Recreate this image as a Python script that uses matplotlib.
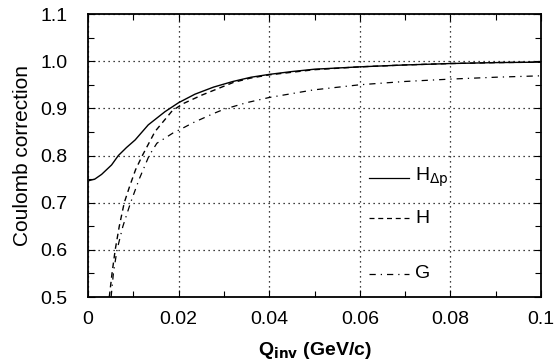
import matplotlib
matplotlib.use("Agg")
import matplotlib.pyplot as plt
from matplotlib.ticker import MultipleLocator

plt.rcParams['font.family'] = ['Liberation Sans', 'DejaVu Sans']

# H_Δp (solid)
x_hdp = [0.0003, 0.0015, 0.003, 0.0052, 0.0067, 0.0085, 0.0104, 0.0133, 0.017, 0.020,
         0.0236, 0.0277, 0.032, 0.036, 0.040, 0.045, 0.050, 0.060, 0.070, 0.080, 0.090, 0.100]
y_hdp = [0.747, 0.750, 0.760, 0.780, 0.800, 0.817, 0.833, 0.865, 0.893, 0.912,
         0.930, 0.945, 0.957, 0.966, 0.972, 0.978, 0.983, 0.988, 0.992, 0.995, 0.997, 0.998]

# H (dashed)
x_h = [0.0047, 0.0053, 0.0060, 0.0069, 0.0080, 0.0092, 0.0105, 0.0120, 0.0148, 0.0186,
       0.0210, 0.0251, 0.0321, 0.0358, 0.040, 0.050, 0.060, 0.070, 0.080, 0.090, 0.100]
y_h = [0.50, 0.55, 0.60, 0.65, 0.70, 0.735, 0.770, 0.800, 0.851, 0.895,
       0.910, 0.928, 0.955, 0.964, 0.971, 0.982, 0.988, 0.992, 0.995, 0.997, 0.998]

# G (dash-dot)
x_g = [0.0051, 0.0056, 0.0064, 0.0077, 0.0094, 0.0113, 0.0135, 0.0152, 0.0188, 0.0207,
       0.0233, 0.0277, 0.0300, 0.035, 0.040, 0.0497, 0.060, 0.070, 0.080, 0.090, 0.100]
y_g = [0.50, 0.55, 0.60, 0.65, 0.70, 0.75, 0.80, 0.826, 0.848, 0.857,
       0.870, 0.889, 0.898, 0.912, 0.923, 0.939, 0.950, 0.957, 0.962, 0.966, 0.969]

legend_labels = [r'H$_{\Delta\mathrm{p}}$', 'H', 'G']
legend_y = [0.753, 0.667, 0.549]

fig = plt.figure(figsize=(5.56, 3.64), dpi=100)
ax = fig.add_axes([0.1583, 0.184, 0.8147, 0.7775])

ax.plot(x_hdp, y_hdp, color='black', lw=1.0, ls='-')
ax.plot(x_h, y_h, color='black', lw=1.0, ls=(0, (4, 3)))
ax.plot(x_g, y_g, color='black', lw=0.9, ls=(0, (5, 4, 1, 4)))

styles = ['-', (0, (4, 3)), (0, (5, 4, 1, 4))]
for lab, ly, st in zip(legend_labels, legend_y, styles):
    ax.plot([0.0620, 0.0709], [ly, ly], color='black', lw=0.9, ls=st)
    ax.text(0.0722, ly, lab, fontsize=14, va='center', ha='left')

ax.set_xlim(0, 0.1)
ax.set_ylim(0.5, 1.1)
ax.xaxis.set_major_locator(MultipleLocator(0.02))
ax.xaxis.set_minor_locator(MultipleLocator(0.01))
ax.yaxis.set_major_locator(MultipleLocator(0.1))
ax.yaxis.set_minor_locator(MultipleLocator(0.05))
ax.set_xticks([0, 0.02, 0.04, 0.06, 0.08, 0.1])
ax.set_xticklabels(['0', '0.02', '0.04', '0.06', '0.08', '0.1'])
ax.set_yticks([0.5, 0.6, 0.7, 0.8, 0.9, 1.0, 1.1])
ax.set_yticklabels(['0.5', '0.6', '0.7', '0.8', '0.9', '1.0', '1.1'])

ax.tick_params(which='both', direction='in', top=True, right=True, labelsize=14)
ax.tick_params(which='major', length=5, width=0.8)
ax.tick_params(axis='x', which='major', pad=10)
ax.tick_params(axis='y', which='major', pad=15)
ax.tick_params(which='minor', length=4, width=0.8)
ax.grid(True, which='major', color='black', ls=(0, (1, 3)), lw=0.9)
for s in ax.spines.values():
    s.set_linewidth(1.3)

ax.set_xlabel(r'Q$_{\mathbf{inv}}$ (GeV/c)', fontsize=14, fontweight='bold', labelpad=9)
ax.set_ylabel('Coulomb correction', fontsize=15, labelpad=6)

fig.savefig('out.png', dpi=100)
